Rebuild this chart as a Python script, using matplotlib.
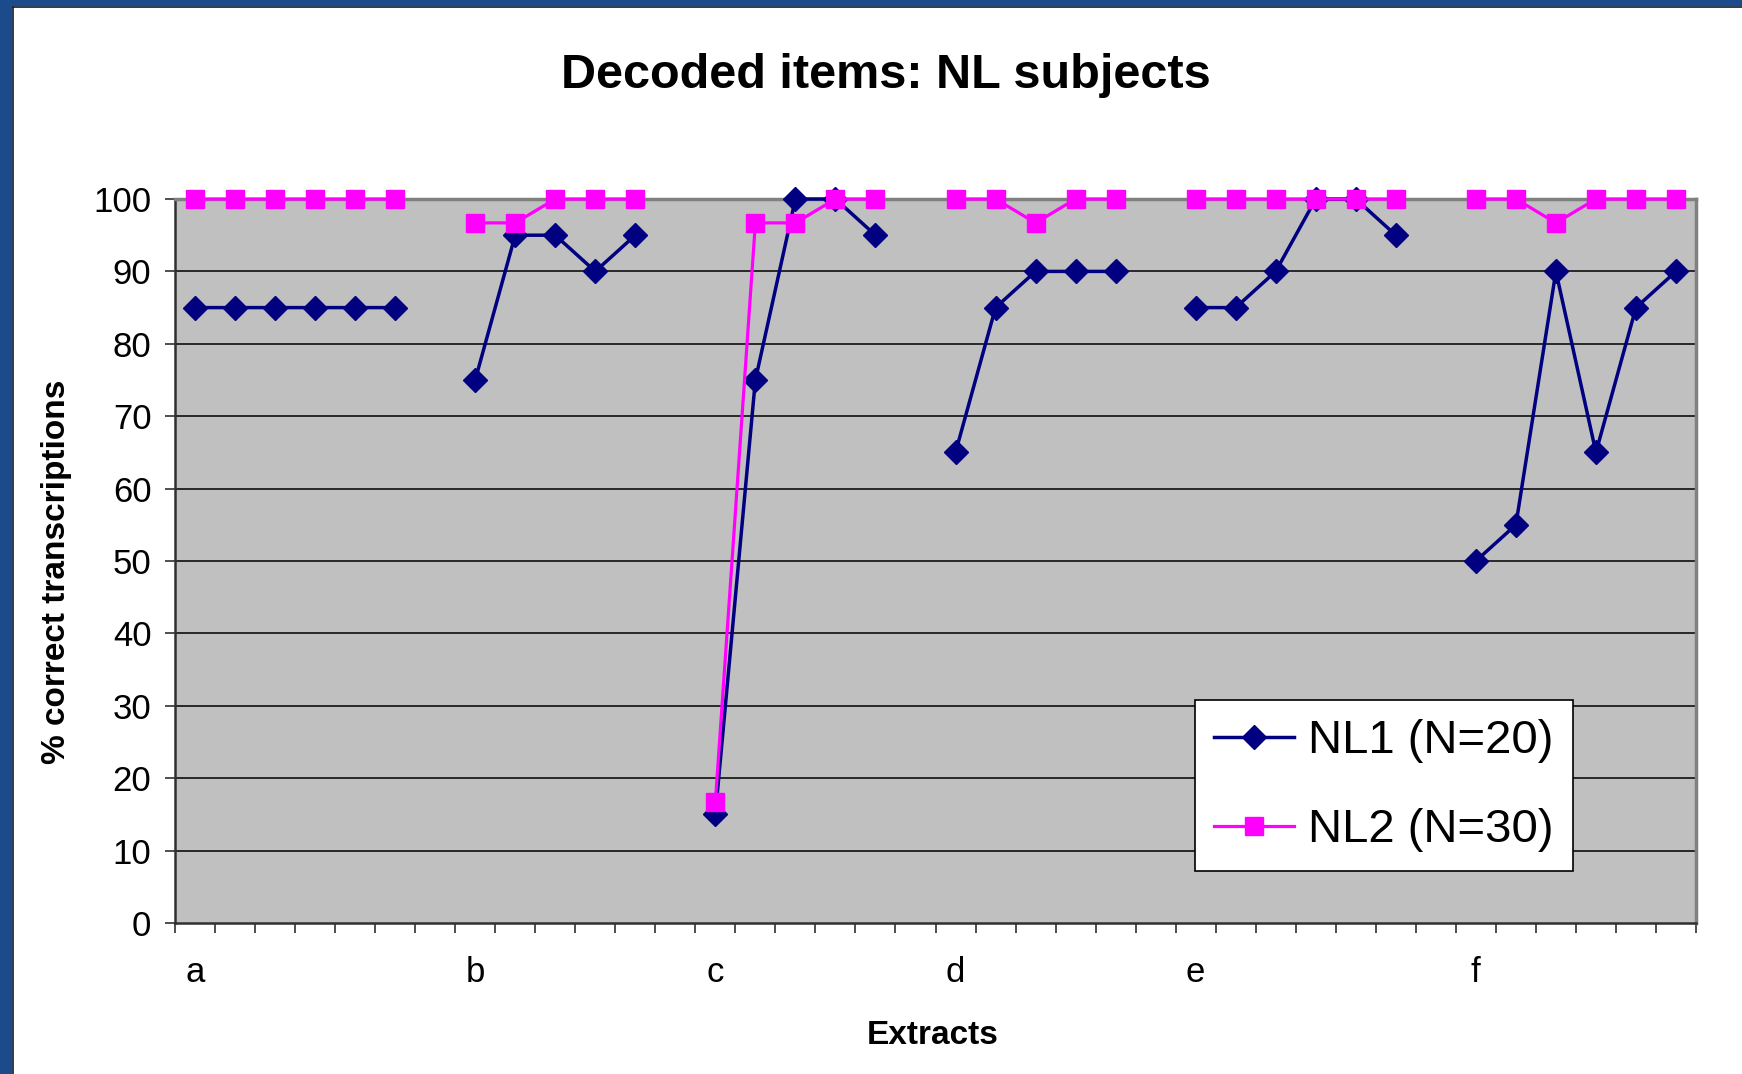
import numpy as np
import matplotlib
matplotlib.use("Agg")
import matplotlib.pyplot as plt
from matplotlib.patches import Rectangle
from matplotlib.ticker import FixedLocator, NullFormatter

# --- data -------------------------------------------------------------
extracts = ["a", "b", "c", "d", "e", "f"]
nl1 = [
    [85, 85, 85, 85, 85, 85],
    [75, 95, 95, 90, 95],
    [15, 75, 100, 100, 95],
    [65, 85, 90, 90, 90],
    [85, 85, 90, 100, 100, 95],
    [50, 55, 90, 65, 85, 90],
]
nl2 = [
    [100, 100, 100, 100, 100, 100],
    [96.7, 96.7, 100, 100, 100],
    [16.7, 96.7, 96.7, 100, 100],
    [100, 100, 96.7, 100, 100],
    [100, 100, 100, 100, 100, 100],
    [100, 100, 96.7, 100, 100, 100],
]
y_ticks = list(range(0, 101, 10))
series_labels = ["NL1 (N=20)", "NL2 (N=30)"]


def flatten(groups):
    """Join groups into one sequence with a blank slot between groups."""
    out = []
    for i, g in enumerate(groups):
        out.extend(g)
        if i < len(groups) - 1:
            out.append(np.nan)
    return np.array(out, dtype=float)


y1 = flatten(nl1)
y2 = flatten(nl2)
n_slots = len(y1)
x = np.arange(n_slots) + 0.5

# first slot of each extract group
starts = []
pos = 0
for g in nl1:
    starts.append(pos + 0.5)
    pos += len(g) + 1

plt.rcParams["font.family"] = ["Liberation Sans", "DejaVu Sans"]

W, H = 1742, 1074
fig = plt.figure(figsize=(W / 100, H / 100), dpi=100)
fig.patch.set_facecolor("white")

# frame band on the left and top
blue = "#1C4B8C"
fig.add_artist(Rectangle((0, 0), 12 / W, 1, transform=fig.transFigure,
                         facecolor=blue, edgecolor="none", zorder=0))
fig.add_artist(Rectangle((0, 1 - 6 / H), 1, 6 / H, transform=fig.transFigure,
                         facecolor=blue, edgecolor="none", zorder=0))
fig.add_artist(plt.Line2D([12.5 / W, 12.5 / W], [0, 1 - 6.5 / H],
                          transform=fig.transFigure, color="#0a1a30", lw=1.2))
fig.add_artist(plt.Line2D([12.5 / W, 1], [1 - 6.5 / H, 1 - 6.5 / H],
                          transform=fig.transFigure, color="#0a1a30", lw=1.2))

ax = fig.add_axes([175 / W, 1 - 923 / H, (1696 - 175) / W, (923 - 199) / H])
ax.set_facecolor("#C0C0C0")
ax.set_xlim(0, n_slots)
ax.set_ylim(0, 100)

for yv in y_ticks[1:-1]:
    ax.axhline(yv, color="black", lw=1.1, zorder=1)

ax.plot(x, y1, color="#000080", lw=2.5, marker="D", ms=12,
        markeredgecolor="#000080", markerfacecolor="#000080",
        label=series_labels[0], clip_on=False, zorder=3)
ax.plot(x, y2, color="#FF00FF", lw=2.3, marker="s", ms=13.5,
        markeredgecolor="#FF00FF", markerfacecolor="#FF00FF",
        label=series_labels[1], clip_on=False, zorder=4)

# spines
for side in ("top", "right"):
    ax.spines[side].set_color("#808080")
    ax.spines[side].set_linewidth(2.5)
for side in ("left", "bottom"):
    ax.spines[side].set_color("#303030")
    ax.spines[side].set_linewidth(1.8)

ax.set_yticks(y_ticks)
ax.tick_params(axis="y", which="major", length=7, width=1.2, color="#303030",
               labelsize=25, pad=10)
ax.set_xticks(starts)
ax.set_xticklabels(extracts)
ax.xaxis.set_minor_locator(FixedLocator(np.arange(0, n_slots + 1)))
ax.xaxis.set_minor_formatter(NullFormatter())
ax.tick_params(axis="x", which="major", length=0, labelsize=25, pad=24)
ax.tick_params(axis="x", which="minor", length=7, width=1.2, color="#303030")

fig.text(886 / W, 1 - 76 / H, "Decoded items: NL subjects",
         ha="center", va="center", fontsize=35, fontweight="bold")
fig.text(56 / W, 1 - 572 / H, "% correct transcriptions", rotation=90,
         ha="center", va="center", fontsize=24, fontweight="bold")
fig.text(933 / W, 1 - 1035 / H, "Extracts",
         ha="center", va="center", fontsize=24, fontweight="bold")

leg = ax.legend(loc="lower left",
                bbox_to_anchor=((1195 - 175) / (1696 - 175), (923 - 871) / (923 - 199),
                                (1573 - 1195) / (1696 - 175), (871 - 700) / (923 - 199)),
                mode="expand", fontsize=34, frameon=True, fancybox=False,
                handlelength=1.7, handletextpad=0.3, borderpad=0.4,
                labelspacing=0.95, borderaxespad=0)
leg.get_frame().set_edgecolor("black")
leg.get_frame().set_linewidth(1.2)
leg.get_frame().set_facecolor("white")
leg.get_frame().set_alpha(1)

fig.savefig("out.png", dpi=100, facecolor="white")
